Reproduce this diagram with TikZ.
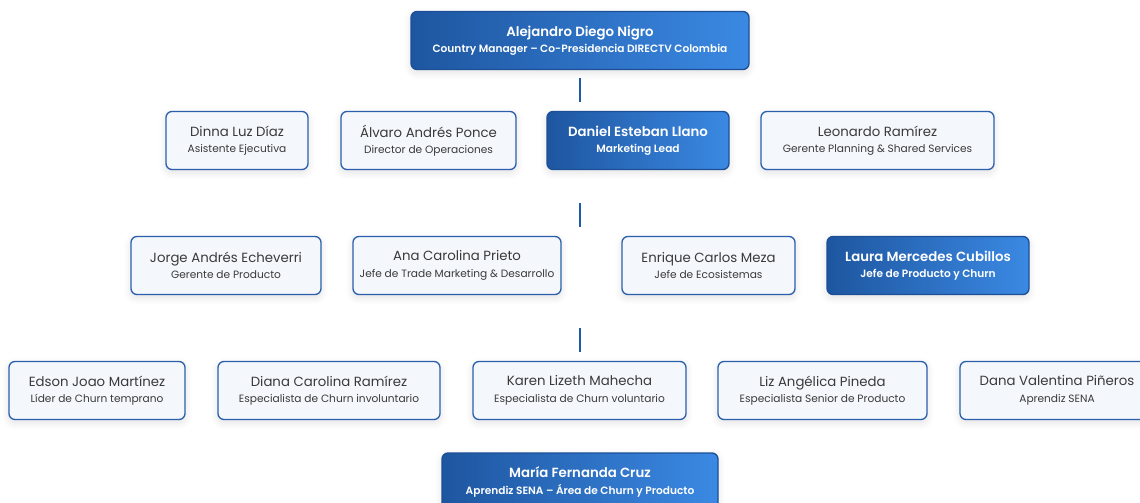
\documentclass[tikz,border=0pt]{standalone}
\usepackage{fontspec}
\setmainfont{Poppins}[BoldFont={Poppins SemiBold}]
\usetikzlibrary{shadows.blur}
\definecolor{bluedark}{HTML}{1E56A0}
\definecolor{bluelight}{HTML}{3B89E3}
\definecolor{blueedge}{HTML}{1C4F96}
\definecolor{boxfill}{HTML}{F4F7FC}
\definecolor{boxline}{HTML}{2B5FAD}
\definecolor{txt}{HTML}{3A3A3A}
\definecolor{conncol}{HTML}{1F5AA8}
\newcommand{\rolefont}{\fontsize{10.6}{16.5}\selectfont}
\tikzset{
  basebox/.style={rounded corners=6pt, minimum height=58pt, inner sep=0pt, align=center,
    line width=1.3pt,
    blur shadow={shadow xshift=0pt, shadow yshift=-3pt, shadow blur radius=7pt, shadow opacity=12}},
  plainbox/.style={basebox, fill=boxfill, draw=boxline, text=txt, font=\fontsize{13.3}{16.5}\selectfont},
  leadbox/.style={basebox, left color=bluedark, right color=bluelight, draw=blueedge, text=white,
    font=\bfseries\fontsize{13.3}{16.5}\selectfont},
  connline/.style={draw=conncol, line width=1.6pt},
}
\begin{document}
\begin{tikzpicture}[x=1pt,y=1pt]
\useasboundingbox (0,0) rectangle (1140,-503);
\clip (0,0) rectangle (1140,-503);
% row 1
\node[leadbox, minimum width=338pt] (alejandro) at (580,-40.5) {Alejandro Diego Nigro\\{\rolefont Country Manager – Co-Presidencia DIRECTV Colombia}};
% row 2
\node[plainbox, minimum width=142pt] (dinna) at (237,-140.5) {Dinna Luz Díaz\\{\rolefont Asistente Ejecutiva}};
\node[plainbox, minimum width=175pt] (alvaro) at (428.5,-140.5) {Álvaro Andrés Ponce\\{\rolefont Director de Operaciones}};
\node[leadbox, minimum width=182pt] (daniel) at (638,-140.5) {Daniel Esteban Llano\\{\rolefont Marketing Lead}};
\node[plainbox, minimum width=233pt] (leonardo) at (877.5,-140.5) {Leonardo Ramírez\\{\rolefont Gerente Planning \& Shared Services}};
% row 3
\node[plainbox, minimum width=190pt] (jorge) at (226,-265.5) {Jorge Andrés Echeverri\\{\rolefont Gerente de Producto}};
\node[plainbox, minimum width=208pt] (ana) at (457,-265.5) {Ana Carolina Prieto\\{\rolefont Jefe de Trade Marketing \& Desarrollo}};
\node[plainbox, minimum width=173pt] (enrique) at (708.5,-265.5) {Enrique Carlos Meza\\{\rolefont Jefe de Ecosistemas}};
\node[leadbox, minimum width=202pt] (laura) at (928,-265.5) {Laura Mercedes Cubillos\\{\rolefont Jefe de Producto y Churn}};
% row 4
\node[plainbox, minimum width=176pt] (edson) at (97,-390.5) {Edson Joao Martínez\\{\rolefont Líder de Churn temprano}};
\node[plainbox, minimum width=222pt] (diana) at (329,-390.5) {Diana Carolina Ramírez\\{\rolefont Especialista de Churn involuntario}};
\node[plainbox, minimum width=213pt] (karen) at (579.5,-390.5) {Karen Lizeth Mahecha\\{\rolefont Especialista de Churn voluntario}};
\node[plainbox, minimum width=209pt] (liz) at (822.5,-390.5) {Liz Angélica Pineda\\{\rolefont Especialista Senior de Producto}};
\node[plainbox, minimum width=194pt] (dana) at (1057,-390.5) {Dana Valentina Piñeros\\{\rolefont Aprendiz SENA}};
% row 5
\node[leadbox, minimum width=276pt] (maria) at (580,-482) {María Fernanda Cruz\\{\rolefont Aprendiz SENA – Área de Churn y Producto}};
% connectors
\coordinate (c1a) at (580,-78);
\coordinate (c1b) at (580,-102);
\coordinate (c2a) at (580,-203);
\coordinate (c2b) at (580,-227);
\coordinate (c3a) at (580,-328);
\coordinate (c3b) at (580,-352);
\draw[connline] (c1a) -- (c1b);
\draw[connline] (c2a) -- (c2b);
\draw[connline] (c3a) -- (c3b);
\end{tikzpicture}
\end{document}
